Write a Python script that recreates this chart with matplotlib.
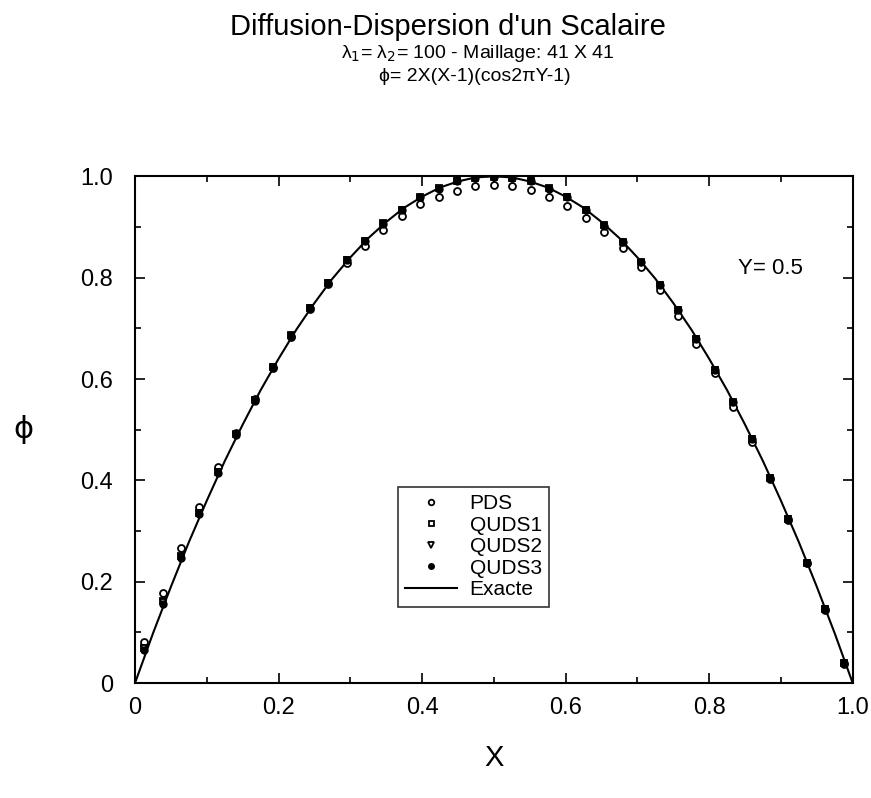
import numpy as np
import matplotlib
matplotlib.use('Agg')
import matplotlib.pyplot as plt
from matplotlib.ticker import MultipleLocator

# node positions along Y = 0.5 (39 interior nodes)
x_nodes = [0.0128, 0.0385, 0.0641, 0.0897, 0.1154, 0.1410, 0.1667, 0.1923, 0.2179, 0.2436,
           0.2692, 0.2949, 0.3205, 0.3462, 0.3718, 0.3974, 0.4231, 0.4487, 0.4744, 0.5000,
           0.5256, 0.5513, 0.5769, 0.6026, 0.6282, 0.6538, 0.6795, 0.7051, 0.7308, 0.7564,
           0.7821, 0.8077, 0.8333, 0.8590, 0.8846, 0.9103, 0.9359, 0.9615, 0.9872]

pds = [0.081, 0.177, 0.266, 0.347, 0.426, 0.493, 0.560, 0.622, 0.683, 0.738,
       0.787, 0.829, 0.863, 0.895, 0.921, 0.945, 0.960, 0.972, 0.980, 0.983,
       0.980, 0.974, 0.959, 0.941, 0.917, 0.890, 0.858, 0.822, 0.776, 0.724,
       0.670, 0.611, 0.544, 0.475, 0.402, 0.321, 0.236, 0.145, 0.037]

quds1 = [0.069, 0.162, 0.250, 0.336, 0.417, 0.491, 0.559, 0.624, 0.686, 0.741,
         0.790, 0.835, 0.873, 0.907, 0.934, 0.959, 0.977, 0.991, 0.997, 0.999,
         0.997, 0.991, 0.977, 0.960, 0.934, 0.904, 0.870, 0.831, 0.786, 0.737,
         0.680, 0.618, 0.554, 0.481, 0.405, 0.323, 0.237, 0.146, 0.039]

quds2 = [0.070, 0.161, 0.249, 0.335, 0.416, 0.490, 0.558, 0.623, 0.685, 0.740,
         0.789, 0.834, 0.872, 0.906, 0.933, 0.958, 0.976, 0.990, 0.996, 0.998,
         0.996, 0.990, 0.976, 0.959, 0.933, 0.903, 0.869, 0.830, 0.785, 0.736,
         0.679, 0.617, 0.553, 0.481, 0.404, 0.323, 0.237, 0.146, 0.039]

quds3 = [0.066, 0.157, 0.247, 0.333, 0.414, 0.489, 0.557, 0.623, 0.685, 0.740,
         0.789, 0.834, 0.873, 0.906, 0.934, 0.959, 0.976, 0.990, 0.996, 0.998,
         0.996, 0.990, 0.976, 0.959, 0.933, 0.903, 0.870, 0.831, 0.786, 0.737,
         0.680, 0.617, 0.554, 0.481, 0.404, 0.323, 0.237, 0.146, 0.039]

# exact solution
x_exact = [0.0, 0.025, 0.05, 0.075, 0.1, 0.125, 0.15, 0.175, 0.2, 0.225,
           0.25, 0.275, 0.3, 0.325, 0.35, 0.375, 0.4, 0.425, 0.45, 0.475,
           0.5, 0.525, 0.55, 0.575, 0.6, 0.625, 0.65, 0.675, 0.7, 0.725,
           0.75, 0.775, 0.8, 0.825, 0.85, 0.875, 0.9, 0.925, 0.95, 0.975, 1.0]
phi_exact = [0.0, 0.098, 0.190, 0.278, 0.360, 0.438, 0.510, 0.578, 0.640, 0.698,
             0.750, 0.798, 0.840, 0.878, 0.910, 0.938, 0.960, 0.978, 0.990, 0.998,
             1.000, 0.998, 0.990, 0.978, 0.960, 0.938, 0.910, 0.878, 0.840, 0.798,
             0.750, 0.698, 0.640, 0.578, 0.510, 0.438, 0.360, 0.278, 0.190, 0.098, 0.0]

tick_vals = [0, 0.2, 0.4, 0.6, 0.8, 1.0]
tick_labels = ['0', '0.2', '0.4', '0.6', '0.8', '1.0']

sans = 'Liberation Sans'
narrow = ['Liberation Sans Narrow', 'Liberation Sans', 'DejaVu Sans']

fig = plt.figure(figsize=(8.71, 7.98), dpi=100)
ax = fig.add_axes([0.155, 0.144, 0.824, 0.635])

ms = 5
ax.plot(x_nodes, pds, 'o', mfc='white', mec='black', mew=1.3, ms=ms, label='PDS', zorder=3)
ax.plot(x_nodes, quds1, 's', mfc='white', mec='black', mew=1.3, ms=ms - 0.5, label='QUDS1', zorder=4)
ax.plot(x_nodes, quds2, 'v', mfc='white', mec='black', mew=1.3, ms=ms, label='QUDS2', zorder=5)
ax.plot(x_nodes, quds3, 'o', mfc='black', mec='black', ms=ms, label='QUDS3', zorder=6)
ax.plot(x_exact, phi_exact, '-', color='black', lw=1.5, label='Exacte', zorder=2)

ax.set_xlim(0, 1)
ax.set_ylim(0, 1)
ax.set_xticks(tick_vals, tick_labels)
ax.set_yticks(tick_vals, tick_labels)
ax.xaxis.set_minor_locator(MultipleLocator(0.1))
ax.yaxis.set_minor_locator(MultipleLocator(0.1))
ax.tick_params(which='both', direction='in', top=True, right=True, width=1.2)
ax.tick_params(which='major', length=7)
ax.tick_params(which='minor', length=4)
ax.tick_params(axis='x', pad=10, labelsize=17)
ax.tick_params(axis='y', pad=16, labelsize=17)
for lab in ax.get_xticklabels() + ax.get_yticklabels():
    lab.set_family(sans)
for s in ax.spines.values():
    s.set_linewidth(1.5)

ax.set_xlabel('X', fontsize=21, family=sans, labelpad=18)
ax.set_ylabel('ϕ', fontsize=22, family='DejaVu Sans', rotation=0, labelpad=41, va='center')

ax.text(0.885, 0.818, 'Y= 0.5', fontsize=16, family=narrow, ha='center', va='center',
        transform=ax.transAxes)

leg = ax.legend(loc='upper left', bbox_to_anchor=(0.366, 0.387), borderaxespad=0,
                frameon=True, fancybox=False, edgecolor='black',
                prop={'family': narrow, 'size': 15}, markerscale=0.8,
                handlelength=2.5, handletextpad=0.6, labelspacing=0.12, borderpad=0.35)
leg.get_frame().set_linewidth(1.2)

fig.text(0.514, 0.966, "Diffusion-Dispersion d'un Scalaire", fontsize=21, family=sans,
         ha='center', va='center')
fig.text(0.549, 0.933, 'λ$_1$= λ$_2$= 100 - Maillage: 41 X 41', fontsize=14, family=narrow,
         ha='center', va='center')
fig.text(0.545, 0.904, 'ϕ= 2X(X-1)(cos2πY-1)', fontsize=14, family=narrow,
         ha='center', va='center')

fig.savefig('out.png', dpi=100)
